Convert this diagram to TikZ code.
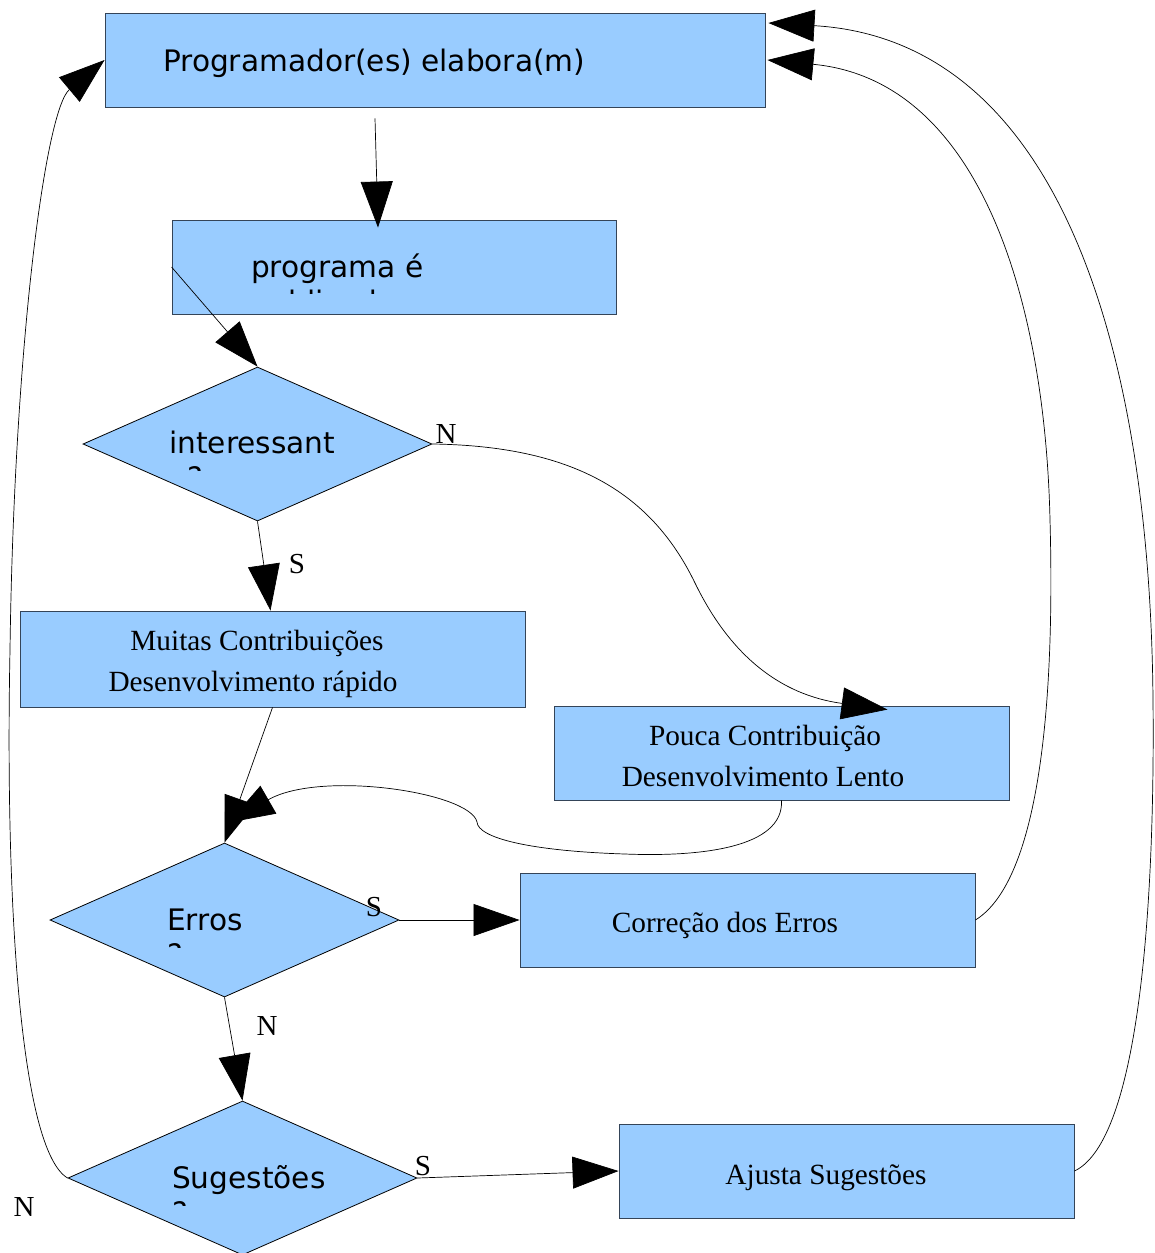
\documentclass[tikz,border=0pt]{standalone}
\usepackage{fontspec}
\setmainfont{Liberation Serif}
\newfontfamily\dvsans{DejaVu Sans}
\usetikzlibrary{shapes.geometric,arrows.meta,calc}
\definecolor{boxfill}{HTML}{99CCFF}
\definecolor{boxline}{HTML}{344458}
\tikzset{
  procbox/.style={draw=boxline, fill=boxfill, line width=0.9pt, inner sep=0pt, rectangle},
  decbox/.style={draw=black, fill=boxfill, line width=0.8pt, inner sep=0pt, shape=diamond},
  sanstxt/.style={font=\dvsans\fontsize{29.6}{35}\selectfont, inner sep=0pt, anchor=base west},
  seriftxt/.style={font=\fontsize{29.3}{34}\selectfont, inner sep=0pt, anchor=base},
  lbl/.style={font=\fontsize{29}{34}\selectfont, inner sep=0pt},
  arr/.style={-{Triangle[length=46pt,width=32pt]}, line width=0.7pt}
}
\begin{document}
\begin{tikzpicture}[x=1pt,y=-1pt]
\useasboundingbox (0,0) rectangle (1154,1253);

% process boxes
\node[procbox, minimum width=660pt, minimum height=94pt] (A) at (435,60) {};
\node[procbox, minimum width=444pt, minimum height=94pt] (B) at (394,267) {};
\node[procbox, minimum width=505pt, minimum height=96pt] (C) at (272.5,659) {};
\node[procbox, minimum width=455pt, minimum height=94pt] (P) at (781.5,753) {};
\node[procbox, minimum width=455pt, minimum height=94pt] (E) at (747.5,920) {};
\node[procbox, minimum width=455pt, minimum height=94pt] (F) at (846.5,1171) {};

% decisions
\node[decbox, minimum width=349pt, minimum height=154pt] (D1) at (257.5,444) {};
\node[decbox, minimum width=349pt, minimum height=154pt] (D2) at (224.5,920) {};
\node[decbox, minimum width=349pt, minimum height=154pt] (D3) at (242.5,1178) {};

% texts
\node[sanstxt] (tA) at (163,71) {Programador(es) elabora(m)};
\node[sanstxt] (tB) at (251,277) {programa é};
\begin{scope}
  \clip (172,220) rectangle (616,293);
  \node[sanstxt] (tB2) at (251,312) {publicado};
\end{scope}
\node[sanstxt] (tD1) at (169,453) {interessant};
\begin{scope}
  \clip (83,367) rectangle (432,470);
  \node[sanstxt] (tD1b) at (169,488) {e?};
\end{scope}
\node[sanstxt] (tD2) at (167,930) {Erros};
\begin{scope}
  \clip (50,843) rectangle (399,947);
  \node[sanstxt] (tD2b) at (167,965) {?};
\end{scope}
\node[sanstxt] (tD3) at (172,1188) {Sugestões};
\begin{scope}
  \clip (68,1101) rectangle (417,1205);
  \node[sanstxt] (tD3b) at (172,1223) {?};
\end{scope}

\node[seriftxt] (tC1) at (257,650) {Muitas Contribuições};
\node[seriftxt] (tC2) at (253,691) {Desenvolvimento rápido};
\node[seriftxt] (tP1) at (765,745) {Pouca Contribuição};
\node[seriftxt] (tP2) at (763,786) {Desenvolvimento Lento};
\node[seriftxt] (tE) at (725,932) {Correção dos Erros};
\node[seriftxt] (tF) at (826,1184) {Ajusta Sugestões};

% labels
\node[lbl] (l1) at (446,434) {N};
\node[lbl] (l2) at (297,564) {S};
\node[lbl] (l3) at (374,907) {S};
\node[lbl] (l4) at (267,1026) {N};
\node[lbl] (l5) at (423,1166) {S};
\node[lbl] (l6) at (24,1207) {N};

% straight connectors
\draw[arr] ([xshift=-60pt,yshift=-11pt]A.south) -- ([xshift=-16pt,yshift=-8pt]B.north);
\draw[arr] (B.west) -- (D1.north);
\draw[arr] (D1.south) -- ([xshift=-2pt]C.north);
\draw[arr] (C.south) -- (D2.north);
\draw[arr] (D2.east) -- (E.west);
\draw[arr] (D2.south) -- (D3.north);
\draw[arr] (D3.east) -- (F.west);

% curved connectors
\coordinate (pin) at ([xshift=106pt,yshift=-4pt]P.north);
\draw[arr] (D1.east) .. controls (570,446) and (650,490) .. (695,583)
  .. controls (730,655) and (780,695) .. (pin);

\coordinate (d2in) at ([xshift=4pt,yshift=20pt]D2.north);
\draw[arr] (P.south) .. controls (784,848) and (700,857) .. (625,854)
  .. controls (530,851) and (478,838) .. (477,822)
  .. controls (470,792) and (320,770) .. (d2in);

\draw[arr] (D3.west) .. controls (20,1150) and (5,900) .. (10,650)
  .. controls (14,350) and (45,110) .. (A.west);

\coordinate (ain1) at ([xshift=2pt]A.east);
\draw[arr] (E.east) .. controls (1040,880) and (1055,700) .. (1050,520)
  .. controls (1045,300) and (980,80) .. (ain1);

\coordinate (ain2) at ([xshift=3pt,yshift=37pt]A.east);
\draw[arr] (F.east) .. controls (1140,1140) and (1155,900) .. (1153,700)
  .. controls (1150,350) and (1060,40) .. (ain2);
\end{tikzpicture}
\end{document}
